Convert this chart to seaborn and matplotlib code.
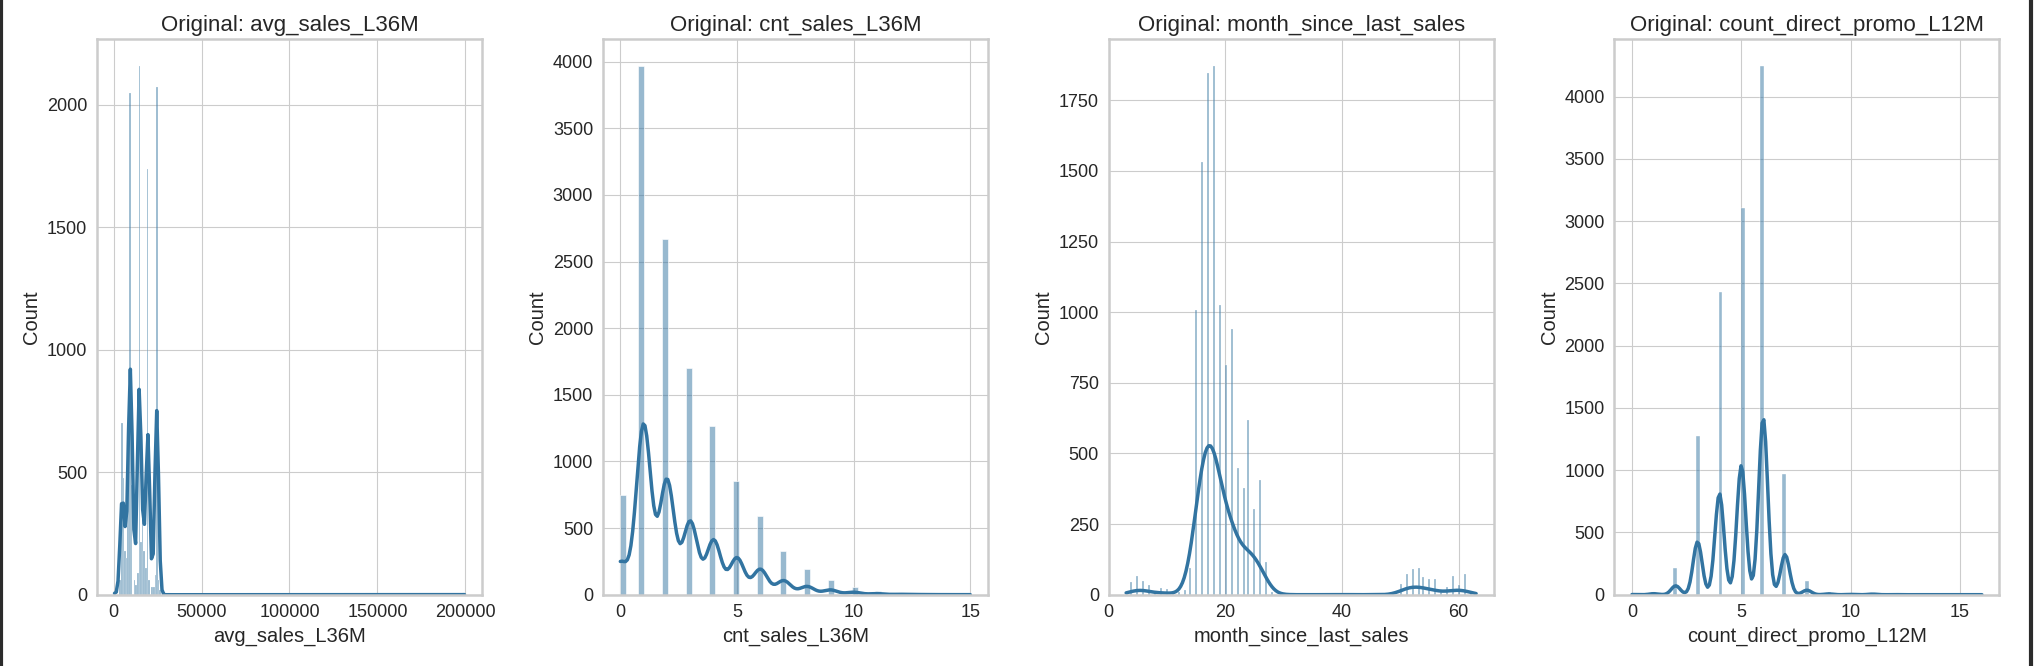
import numpy as np
import pandas as pd
import seaborn as sns
import matplotlib.pyplot as plt

# avg_sales_L36M: value (bin centre) and how many customers sit there
avg_sales_values = [500, 3500, 4500, 5500, 6500, 7500, 8500, 9500, 10500, 11500,
                    12500, 13500, 14500, 15500, 16500, 17500, 18500, 19500, 20500,
                    21500, 22500, 23500, 24500, 25500, 26500, 199500]
avg_sales_counts = [15, 60, 700, 477, 180, 150, 450, 2050, 450, 60,
                    40, 90, 2160, 217, 347, 180, 110, 1740, 60,
                    30, 30, 80, 2075, 60, 20, 2]

# cnt_sales_L36M
cnt_sales_values = list(range(0, 16))
cnt_sales_counts = [750, 3970, 2670, 1700, 1270, 856, 591, 326, 192, 112, 58, 25, 10, 5, 3, 2]

# month_since_last_sales
month_values = [3, 4, 5, 6, 7, 8, 9, 10, 11, 12, 13, 14, 15, 16, 17, 18, 19, 20, 21, 22,
                23, 24, 25, 26, 27, 28, 30, 35, 40, 45, 50, 51, 52, 53, 54, 55, 56, 57,
                58, 59, 60, 61, 62, 63]
month_counts = [3, 45, 66, 48, 36, 8, 23, 22, 6, 8, 15, 95, 1006, 1532, 1848, 1872, 1024, 813, 941, 447,
                376, 617, 304, 407, 116, 10, 4, 2, 5, 3, 38, 75, 90, 95, 63, 57, 57, 10,
                27, 68, 33, 75, 10, 3]

# count_direct_promo_L12M
promo_values = list(range(0, 17))
promo_counts = [5, 25, 215, 1273, 2430, 3106, 4249, 966, 109, 20, 8, 15, 3, 2, 1, 1, 1]

columns = ['avg_sales_L36M', 'cnt_sales_L36M', 'month_since_last_sales', 'count_direct_promo_L12M']
data = {
    'avg_sales_L36M': np.repeat(avg_sales_values, avg_sales_counts),
    'cnt_sales_L36M': np.repeat(cnt_sales_values, cnt_sales_counts),
    'month_since_last_sales': np.repeat(month_values, month_counts),
    'count_direct_promo_L12M': np.repeat(promo_values, promo_counts),
}
bw = {'avg_sales_L36M': 1.0, 'cnt_sales_L36M': 1, 'month_since_last_sales': 1,
      'count_direct_promo_L12M': 1.05}

sns.set_style('whitegrid')
plt.rcParams['font.family'] = ['Liberation Sans', 'DejaVu Sans']
plt.rcParams['text.color'] = '#262626'
plt.rcParams['axes.labelcolor'] = '#262626'
plt.rcParams['xtick.color'] = '#262626'
plt.rcParams['ytick.color'] = '#262626'

fig, axes = plt.subplots(1, 4, figsize=(20.34, 6.66), dpi=100)
plt.subplots_adjust(left=0.0477, right=0.983, top=0.941, bottom=0.107, wspace=0.314)

for ax, col in zip(axes, columns):
    sns.histplot(pd.Series(data[col], name=col), kde=True, ax=ax, color='#3274a1',
                 kde_kws={'bw_adjust': bw[col]}, line_kws={'linewidth': 2.5})
    ax.set_title(f'Original: {col}', fontsize=16)
    ax.set_xlabel(col, fontsize=14.5)
    ax.set_ylabel('Count', fontsize=14.5)
    ax.tick_params(labelsize=13)
    ax.locator_params(axis='x', nbins=5)
    for s in ax.spines.values():
        s.set_linewidth(1.8)

# screenshot border on the sides
fig.add_artist(plt.Line2D([0.0007, 0.0007], [0, 1], transform=fig.transFigure, color='#2b2b2b', lw=3))
fig.add_artist(plt.Line2D([0.9985, 0.9985], [0, 1], transform=fig.transFigure, color='#2b2b2b', lw=3))

plt.savefig('out.png', dpi=100)
